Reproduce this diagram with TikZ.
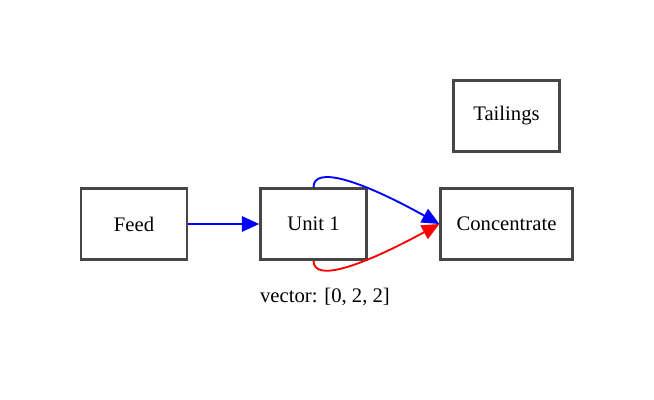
\documentclass[tikz,border=0pt]{standalone}
\usepackage{fontspec}
\setmainfont{Liberation Serif}
\usepackage{tikz}
\usetikzlibrary{arrows.meta,calc}
\usepackage{amsmath}
\definecolor{boxline}{RGB}{70,70,70}

\begin{document}
\begin{tikzpicture}[x=0.75pt,y=0.75pt,
  unitbox/.style={draw=boxline,line width=1.9pt,minimum width=79.5pt,minimum height=53pt,inner xsep=12pt,font=\fontsize{15.5}{18}\selectfont},
  flow/.style={line width=1.4pt,-{Triangle[length=13pt,width=11.5pt]}}]
\useasboundingbox (0,0) rectangle (654,400);
\node[unitbox] (feed) at (134,176) {Feed};
\node[unitbox] (unit1) at (313.5,176) {Unit 1};
\node[unitbox] (conc) at (506.5,176) {Concentrate};
\node[unitbox] (tail) at (506.5,284) {Tailings};
\node[font=\fontsize{15.5}{18}\selectfont] (vec) at (325,103) {vector: [0, 2, 2]};
\draw[flow,color=blue] (feed.east) -- (unit1.west);
\draw[flow,color=blue] (unit1.north) .. controls +(0,22) and (360,220) .. (conc.west);
\draw[flow,color=red] (unit1.south) .. controls +(0,-22) and (360,133) .. (conc.west);
\end{tikzpicture}
\end{document}
